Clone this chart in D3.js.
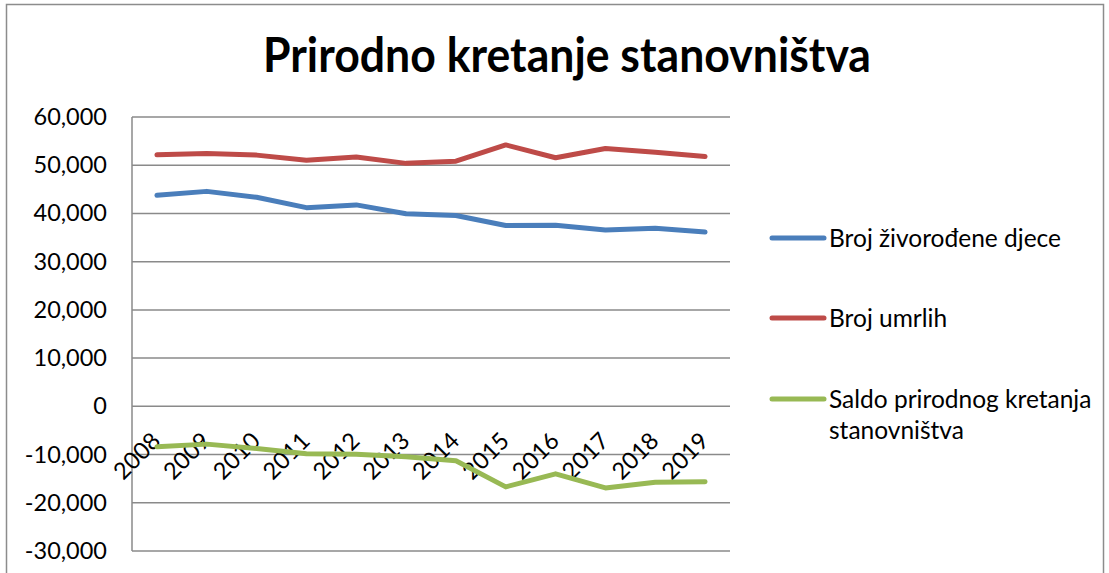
<!DOCTYPE html>
<html>
<head>
<meta charset="utf-8">
<script src="https://cdn.jsdelivr.net/npm/d3@7"></script>
<style>
  html, body { margin: 0; padding: 0; background: #fff; }
  svg { display: block; }
  text { font-family: Lato, "Open Sans", sans-serif; fill: #000; }
</style>
</head>
<body>
<svg id="chart" width="1109" height="573"></svg>
<script>
const years = ["2008","2009","2010","2011","2012","2013","2014","2015","2016","2017","2018","2019"];
const births = [43753, 44577, 43361, 41197, 41771, 39939, 39566, 37503, 37537, 36556, 36945, 36135];
const deaths = [52151, 52414, 52096, 51019, 51710, 50386, 50839, 54205, 51542, 53477, 52706, 51794];
const saldo  = [-8398, -7837, -8735, -9822, -9939, -10447, -11273, -16702, -14005, -16921, -15761, -15659];
const yTicks = [-30000, -20000, -10000, 0, 10000, 20000, 30000, 40000, 50000, 60000];
const seriesNames = ["Broj živorođene djece", "Broj umrlih", "Saldo prirodnog kretanja stanovništva"];
const seriesColors = ["#4A7EBB", "#BE4B48", "#98B954"];
const title = "Prirodno kretanje stanovništva";

const svg = d3.select("#chart");
const plot = { left: 132, right: 730, top: 117, bottom: 551 };

// chart area border
svg.append("rect")
  .attr("x", 6.5).attr("y", 4.5).attr("width", 1097).attr("height", 600)
  .attr("fill", "none").attr("stroke", "#8c8c8c").attr("stroke-width", 1.5);

// title
svg.append("text")
  .attr("x", 567).attr("y", 72)
  .attr("text-anchor", "middle")
  .attr("font-weight", "bold")
  .attr("font-size", 47)
  .attr("textLength", 608).attr("lengthAdjust", "spacingAndGlyphs")
  .text(title);

const x = d3.scaleBand().domain(years).range([plot.left, plot.right]);
const y = d3.scaleLinear().domain([-30000, 60000]).range([plot.bottom, plot.top]);
const fmt = v => d3.format(",")(v).replace("\u2212", "-");

// gridlines
svg.append("g").selectAll("line").data(yTicks).join("line")
  .attr("x1", plot.left).attr("x2", plot.right)
  .attr("y1", d => y(d)).attr("y2", d => y(d))
  .attr("stroke", "#8a8a8a").attr("stroke-width", 1.5);

// y axis line
svg.append("line")
  .attr("x1", plot.left).attr("x2", plot.left)
  .attr("y1", plot.top).attr("y2", plot.bottom)
  .attr("stroke", "#8a8a8a").attr("stroke-width", 1.5);

// y axis labels
const yAxis = d3.axisLeft(y).tickValues(yTicks).tickFormat(fmt).tickSize(0).tickPadding(25);
const ya = svg.append("g").attr("transform", `translate(${plot.left},0)`).call(yAxis);
ya.select(".domain").remove();
ya.selectAll("text").attr("font-size", 23.5).attr("font-family", "Lato, sans-serif").attr("fill", "#000");

// x axis labels (rotated)
const xa = svg.append("g");
xa.selectAll("text").data(years).join("text")
  .attr("transform", d => `translate(${x(d) + x.bandwidth() / 2 + 5},${y(0) + 36}) rotate(-45)`)
  .attr("text-anchor", "end")
  .attr("font-size", 23.5)
  .text(d => d);

// lines
const allSeries = [births, deaths, saldo];
const line = d3.line()
  .x((d, i) => x(years[i]) + x.bandwidth() / 2)
  .y(d => y(d));
svg.append("g").selectAll("path").data(allSeries).join("path")
  .attr("d", d => line(d))
  .attr("fill", "none")
  .attr("stroke", (d, i) => seriesColors[i])
  .attr("stroke-width", 5)
  .attr("stroke-linecap", "round")
  .attr("stroke-linejoin", "round");

// legend
const legendY = [238, 318, 399];
const lg = svg.append("g");
seriesNames.forEach((name, i) => {
  lg.append("line")
    .attr("x1", 772).attr("x2", 824)
    .attr("y1", legendY[i]).attr("y2", legendY[i])
    .attr("stroke", seriesColors[i]).attr("stroke-width", 5)
    .attr("stroke-linecap", "round");
  const t = lg.append("text").attr("x", 829).attr("y", legendY[i] + 9).attr("font-size", 24.5);
  if (i === 2) {
    t.append("tspan").attr("x", 829).text("Saldo prirodnog kretanja");
    t.append("tspan").attr("x", 829).attr("dy", 31).text("stanovništva");
  } else {
    t.text(name);
  }
});
</script>
</body>
</html>
